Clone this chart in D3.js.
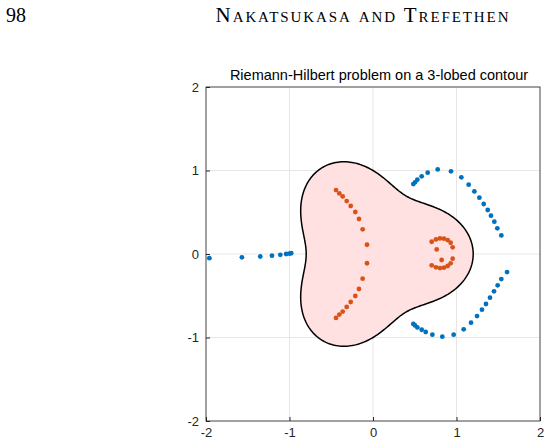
<!DOCTYPE html>
<html><head><meta charset="utf-8">
<script src="https://cdn.jsdelivr.net/npm/d3@7"></script>
<style>body{margin:0;background:#fff}</style></head>
<body><svg id="c" width="550" height="446"></svg>
<script>
const title = "Riemann-Hilbert problem on a 3-lobed contour";
const ticks = [-2,-1,0,1,2];
const lobeAmp = 0.2; // contour r = 1 + a cos(3θ)
const blueX = [-1.96,-1.57,-1.35,-1.21,-1.11,-1.04,-1.00,-0.98,
  0.483,0.503,0.531,0.583,0.655,0.775,0.934,1.058,1.146,1.214,1.274,1.326,1.374,1.413,1.453,1.489,1.537,
  0.483,0.503,0.531,0.583,0.631,0.711,0.830,0.966,1.086,1.174,1.246,1.305,1.353,1.401,1.449,1.493,1.537,1.605];
const blueY = [-0.05,-0.04,-0.03,-0.02,-0.01,0,0.005,0.01,
  0.838,0.858,0.890,0.930,0.974,1.013,0.990,0.918,0.830,0.750,0.674,0.599,0.527,0.459,0.387,0.307,0.223,
  -0.838,-0.855,-0.879,-0.907,-0.934,-0.966,-0.990,-0.966,-0.902,-0.823,-0.743,-0.667,-0.599,-0.523,-0.447,-0.375,-0.300,-0.216];
const redX = [-0.443,-0.403,-0.363,-0.315,-0.267,-0.212,-0.168,-0.124,-0.072,
  -0.072,-0.124,-0.168,-0.212,-0.267,-0.315,-0.363,-0.403,-0.443,
  0.703,0.754,0.802,0.850,0.894,0.930,0.954,0.763,
  0.703,0.754,0.802,0.850,0.894,0.930,0.954,0.822];
const redY = [0.766,0.726,0.690,0.634,0.575,0.503,0.419,0.295,0.111,
  -0.111,-0.295,-0.419,-0.503,-0.575,-0.634,-0.690,-0.726,-0.766,
  0.147,0.175,0.187,0.183,0.167,0.135,0.080,0.055,
  -0.136,-0.160,-0.168,-0.164,-0.144,-0.112,-0.056,-0.072];

const svg = d3.select("#c");
svg.append("text").attr("x",6).attr("y",22).attr("font-family","Liberation Serif").attr("font-size",20).text("98");
svg.append("text").attr("x",363).attr("y",22).attr("text-anchor","middle").attr("font-family","Liberation Serif")
  .attr("font-size",21).attr("font-variant","small-caps").attr("letter-spacing",1.9).text("Nakatsukasa and Trefethen");

const L=206,R=540,T=87,B=421;
const x=d3.scaleLinear().domain([-2,2]).range([L,R]);
const y=d3.scaleLinear().domain([-2,2]).range([B,T]);
const g=svg.append("g");
g.selectAll(".gx").data(ticks).join("line").attr("x1",d=>x(d)).attr("x2",d=>x(d)).attr("y1",T).attr("y2",B).attr("stroke","#e6e6e6");
g.selectAll(".gy").data(ticks).join("line").attr("y1",d=>y(d)).attr("y2",d=>y(d)).attr("x1",L).attr("x2",R).attr("stroke","#e6e6e6");

const th=d3.range(0,2*Math.PI+0.001,Math.PI/180);
const pts=th.map(t=>{const r=1+lobeAmp*Math.cos(3*t);return [x(r*Math.cos(t)),y(r*Math.sin(t))];});
g.append("path").attr("d",d3.line()(pts)+"Z").attr("fill","#ffe1e1").attr("stroke","#000").attr("stroke-width",1.5);

g.selectAll(".b").data(blueX).join("circle").attr("cx",d=>x(d)).attr("cy",(d,i)=>y(blueY[i])).attr("r",2.4).attr("fill","#0072BD");
g.selectAll(".r").data(redX).join("circle").attr("cx",d=>x(d)).attr("cy",(d,i)=>y(redY[i])).attr("r",2.4).attr("fill","#D95319");

g.append("rect").attr("x",L).attr("y",T).attr("width",R-L).attr("height",B-T).attr("fill","none").attr("stroke","#262626").attr("stroke-width",0.8);
const fmt=d=>String(d);
const ax=svg.append("g").attr("transform",`translate(0,${B})`).call(d3.axisBottom(x).tickValues(ticks).tickFormat(fmt).tickSize(-4).tickPadding(7));
const ay=svg.append("g").attr("transform",`translate(${L},0)`).call(d3.axisLeft(y).tickValues(ticks).tickFormat(fmt).tickSize(-4).tickPadding(7));
[ax,ay].forEach(a=>{a.select(".domain").remove();a.selectAll("line").attr("stroke","#262626");a.selectAll("text").attr("font-family","Liberation Sans").attr("font-size",13).attr("fill","#262626");});
svg.append("text").attr("x",(L+R)/2+6).attr("y",T-7).attr("text-anchor","middle").attr("font-family","Liberation Sans").attr("font-size",14.5).attr("fill","#000").text(title);
</script></body></html>
